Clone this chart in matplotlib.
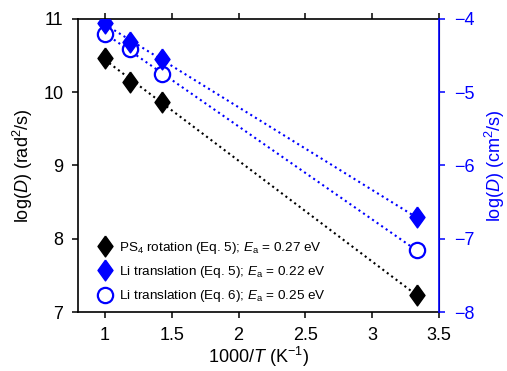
import numpy as np
import matplotlib
matplotlib.use('Agg')
import matplotlib.pyplot as plt

plt.rcParams['font.family'] = ['Liberation Sans', 'DejaVu Sans']
plt.rcParams['mathtext.fontset'] = 'custom'
plt.rcParams['mathtext.rm'] = 'Liberation Sans'
plt.rcParams['mathtext.it'] = 'Liberation Sans:italic'

# ======= DATA ======= #
inv_T = [1.0, 1.185, 1.43, 3.333]
ps4_rot = [10.47, 10.14, 9.87, 7.23]          # left axis, rad^2/s
li_eq5 = [-4.05, -4.32, -4.55, -6.71]         # right axis, cm^2/s
li_eq6 = [-4.21, -4.41, -4.75, -7.16]         # right axis, cm^2/s

labels = [r'PS$_4$ rotation (Eq. 5); $E_\mathrm{a}$ = 0.27 eV',
          r'Li translation (Eq. 5); $E_\mathrm{a}$ = 0.22 eV',
          r'Li translation (Eq. 6); $E_\mathrm{a}$ = 0.25 eV']

blue = '#0000ff'
diamond = [(0, 1), (0.72, 0), (0, -1), (-0.72, 0), (0, 1)]


def fit_line(x, y):
    p = np.polyfit(x, y, 1)
    xx = np.array([x[0], x[-1]])
    return xx, np.polyval(p, xx)


fig = plt.figure(figsize=(5.07, 3.71), dpi=100)
ax = fig.add_axes([0.154, 0.159, 0.712, 0.790])
ax2 = ax.twinx()

xx, yy = fit_line(inv_T, ps4_rot)
ax.plot(xx, yy, ls=':', color='black', lw=1.5)
h1, = ax.plot(inv_T, ps4_rot, ls='none', marker=diamond, ms=15,
              color='black')

xx, yy = fit_line(inv_T, li_eq6)
ax2.plot(xx, yy, ls=':', color=blue, lw=1.5)
h3, = ax2.plot(inv_T, li_eq6, ls='none', marker='o', ms=11, mfc='white',
               mec=blue, mew=1.6)

xx, yy = fit_line(inv_T, li_eq5)
ax2.plot(xx, yy, ls=':', color=blue, lw=1.5)
h2, = ax2.plot(inv_T, li_eq5, ls='none', marker=diamond, ms=15, color=blue)

ax.set_xlim(0.8, 3.5)
ax.set_ylim(7, 11)
ax2.set_ylim(-8, -4)
ax.set_xticks(np.arange(1, 3.6, 0.5))
ax.set_xticklabels(['1', '1.5', '2', '2.5', '3', '3.5'])
ax.set_yticks([7, 8, 9, 10, 11])
ax2.set_yticks([-8, -7, -6, -5, -4])

ax.tick_params(axis='both', direction='out', length=4.5, width=1.1,
               labelsize=13, top=True, pad=6)
ax2.tick_params(axis='y', direction='out', length=4.5, width=1.1,
                labelsize=13, colors=blue, pad=6)
for s in ['left', 'bottom', 'top']:
    ax.spines[s].set_linewidth(1.2)
ax2.spines['right'].set_color(blue)
ax2.spines['right'].set_linewidth(1.2)
for s in ['left', 'bottom', 'top']:
    ax2.spines[s].set_visible(False)

ax.set_xlabel(r'1000/$T$ (K$^{-1}$)', fontsize=13, labelpad=1)
ax.set_ylabel(r'log($D$) (rad$^2$/s)', fontsize=13, labelpad=6)
ax2.set_ylabel(r'log($D$) (cm$^2$/s)', fontsize=13, color=blue, labelpad=6)

ax2.legend([h1, h2, h3], labels, loc='lower left', frameon=False,
           fontsize=9.7, handletextpad=0.25, borderaxespad=0,
           bbox_to_anchor=(0.032, 0.008), labelspacing=0.6,
           handlelength=1.5)

fig.savefig('out.png', dpi=100)
